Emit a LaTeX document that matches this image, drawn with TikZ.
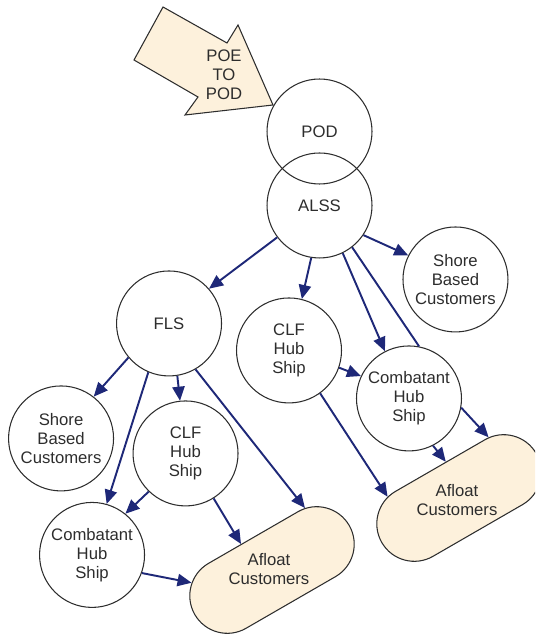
\documentclass[tikz,border=0pt]{standalone}
\usepackage{fontspec}
\setmainfont{Liberation Sans}
\usepackage{tikz}
\usetikzlibrary{arrows.meta,shapes.misc}
\definecolor{navyline}{RGB}{30,40,120}
\definecolor{cream}{RGB}{253,241,220}
\definecolor{inkgray}{RGB}{45,45,45}

\begin{document}
\begin{tikzpicture}[
  x=0.02cm, y=-0.02cm,
  node distance=1.48cm,
  every node/.style={font=\fontsize{9.5}{10.8}\selectfont, text=inkgray},
  hubnode/.style={draw=inkgray,line width=0.6pt,shape=circle,minimum size=2.1cm,inner sep=0pt,align=center},
  ]
  \tikzset{%
    afloat/.style={
      draw=inkgray,
      line width=0.6pt,
      fill=cream,
      shape=rounded rectangle,
      minimum width=3.8cm,
      minimum height=1.5cm,
      rotate=30,
    },
    feed/.style={
      color=navyline,
      line width=1.1pt,
      -{Triangle[length=8pt,width=7pt]},
    },
  }
  \path[use as bounding box, clip] (0,0) rectangle (535,634);
  %Big arrow
  \draw[fill=cream, draw=inkgray, line width=0.6pt] (163,7) -- (227,43) -- (238,25) -- (273,105)
    -- (185,115) -- (198,97) -- (134,60) -- cycle;
  \node[align=center](poe) at (224,75){POE\\TO\\POD};
  %Nodes
  \node[hubnode](pod) at (319.5,131.5){POD};
  \node[hubnode](alss)[below of=pod]{ALSS};
  \node[hubnode](shore1)[below of=alss, xshift=2.72cm]{Shore\\Based\\Customers};
  \node[hubnode](fls)[below of=alss, xshift=-3.01cm, yshift=-0.88cm]{FLS};
  \node[hubnode](clf1)[below of=alss, xshift=-0.61cm, yshift=-1.42cm]{CLF\\Hub\\Ship};
  \node[hubnode](combat1)[right of=clf1, xshift=0.92cm, yshift=-0.96cm]{Combatant\\Hub\\Ship};
  \node[hubnode](shore2)[below of=fls, xshift=-2.16cm, yshift=-0.82cm]{Shore\\Based\\Customers};
  \node[hubnode](clf2)[below of=fls, xshift=0.33cm, yshift=-1.12cm]{CLF\\Hub\\Ship};
  \node[hubnode](combat2)[below of=shore2, xshift=0.62cm, yshift=-0.85cm]{Combatant\\Hub\\Ship};
  %Afloat customers
  \node[afloat](afloat1) at (459,498){};
  \node[align=center](afloat1text) at (457,500){Afloat\\Customers};
  \node[afloat](afloat2) at (272,570){};
  \node[align=center](afloat2text) at (269,569){Afloat\\Customers};
  %Lines
  \draw[-]
    % from ALSS
    (alss.217) edge[feed] (fls.41)
    (alss.261) edge[feed] (clf1.76)
    (alss.296) edge[feed] (combat1.117)
    (alss.326) edge[feed] (shore1.153)
    (clf1.341) edge[feed] (combat1.155)
    (clf1.306) edge[feed] (afloat1.149)
    (combat1.297) edge[feed] (afloat1.80)
    (combat1.350) edge[feed] (afloat1.34)
    % from FLS
    (fls.220) edge[feed] (shore2.52)
    (fls.279) edge[feed] (clf2.96)
    (fls.247) edge[feed] (combat2.74)
    (fls.300) edge[feed] (afloat2.32)
    (clf2.226) edge[feed] (combat2.51)
    (clf2.302) edge[feed] (afloat2.110)
    (combat2.340) edge[feed] (afloat2.159)
    % no tip here
    (alss.308) edge[feed, -] (combat1.79)
    ;
\end{tikzpicture}
\end{document}
